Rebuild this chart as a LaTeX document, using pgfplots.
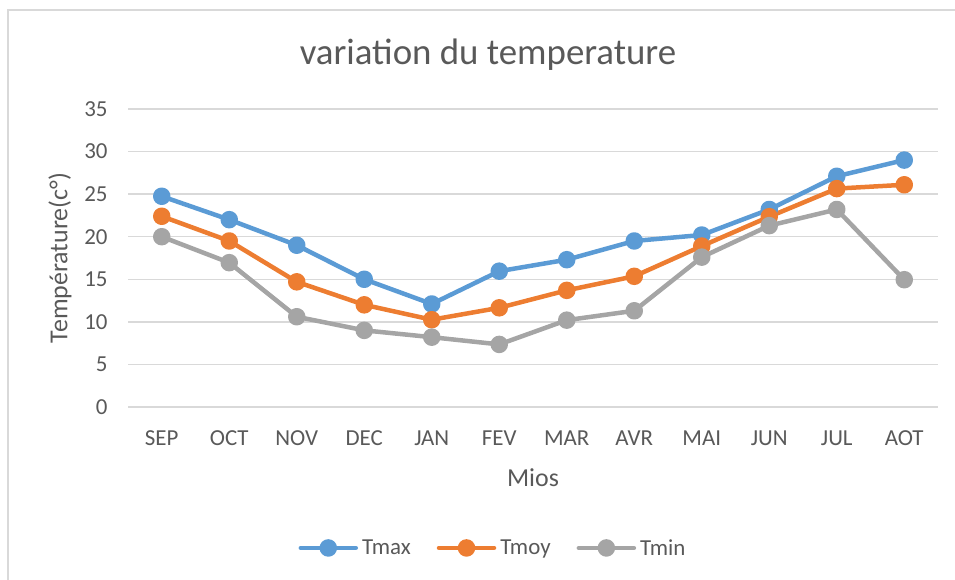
\documentclass[border=0pt]{standalone}
\usepackage{pgfplots}
\pgfplotsset{compat=1.18}
\usepackage{fontspec}
\setmainfont{Carlito}
\definecolor{cblue}{HTML}{5B9BD5}
\definecolor{corange}{HTML}{ED7D31}
\definecolor{cgray}{HTML}{A5A5A5}
\definecolor{ctext}{HTML}{595959}
\definecolor{cgrid}{HTML}{D9D9D9}
\begin{document}
\begin{tikzpicture}[x=1bp,y=1bp]
\path[use as bounding box] (0,0) rectangle (955,580);
\draw[cgrid, line width=1.5bp] (8,0) -- (8,570) -- (955,570);
\node[text=ctext, font=\fontsize{37}{40}\selectfont] at (488,525) {variation du temperature};
\node[text=ctext, font=\fontsize{26}{30}\selectfont] at (533,102) {Mios};
\node[text=ctext, font=\fontsize{26}{30}\selectfont, rotate=90] at (60,322) {Température(c°)};
\begin{axis}[
  at={(128bp,173bp)}, anchor=south west,
  scale only axis, width=810bp, height=298bp,
  xmin=-0.5, xmax=11.5, ymin=0, ymax=35,
  xtick={0,...,11},
  xticklabels={SEP,OCT,NOV,DEC,JAN,FEV,MAR,AVR,MAI,JUN,JUL,AOT},
  ytick={0,5,...,35},
  axis line style={draw=none},
  major tick length=0pt,
  ymajorgrids, grid style={cgrid, line width=1.3bp},
  tick label style={text=ctext, font=\fontsize{23}{26}\selectfont},
  /pgf/number format/assume math mode=true,
  xticklabel style={yshift=-20bp},
  yticklabel style={xshift=-17bp},
  clip=false,
  legend columns=3,
  legend style={draw=none, fill=none, at={(rel axis cs:0.4506,-0.473)}, anchor=center,
    font=\fontsize{23}{26}\selectfont, text=ctext,
    /tikz/every odd column/.append style={column sep=2bp},
    /tikz/every even column/.append style={column sep=24bp}},
  legend image code/.code={
    \draw[#1, line width=4.5bp, line cap=round] (0bp,0bp) -- (55bp,0bp);
    \fill[#1] (27.5bp,0bp) circle (6.5bp);
  },
  every axis plot/.append style={line width=4.5bp, mark=*, mark size=6.5bp, line join=round},
]
\addplot[cblue, mark options={fill=cblue, draw=cblue}] coordinates {
(0,24.75) (1,22.0) (2,19.0) (3,15.0) (4,12.1) (5,15.95) (6,17.3) (7,19.5) (8,20.2) (9,23.2) (10,27.1) (11,29.0)};
\addlegendentry{Tmax}
\addplot[corange, mark options={fill=corange, draw=corange}] coordinates {
(0,22.4) (1,19.5) (2,14.7) (3,12.0) (4,10.25) (5,11.65) (6,13.7) (7,15.35) (8,18.9) (9,22.35) (10,25.65) (11,26.1)};
\addlegendentry{Tmoy}
\addplot[cgray, mark options={fill=cgray, draw=cgray}] coordinates {
(0,20.0) (1,16.95) (2,10.6) (3,9.0) (4,8.2) (5,7.35) (6,10.2) (7,11.3) (8,17.6) (9,21.3) (10,23.2) (11,14.95)};
\addlegendentry{Tmin}
\end{axis}
\end{tikzpicture}
\end{document}
